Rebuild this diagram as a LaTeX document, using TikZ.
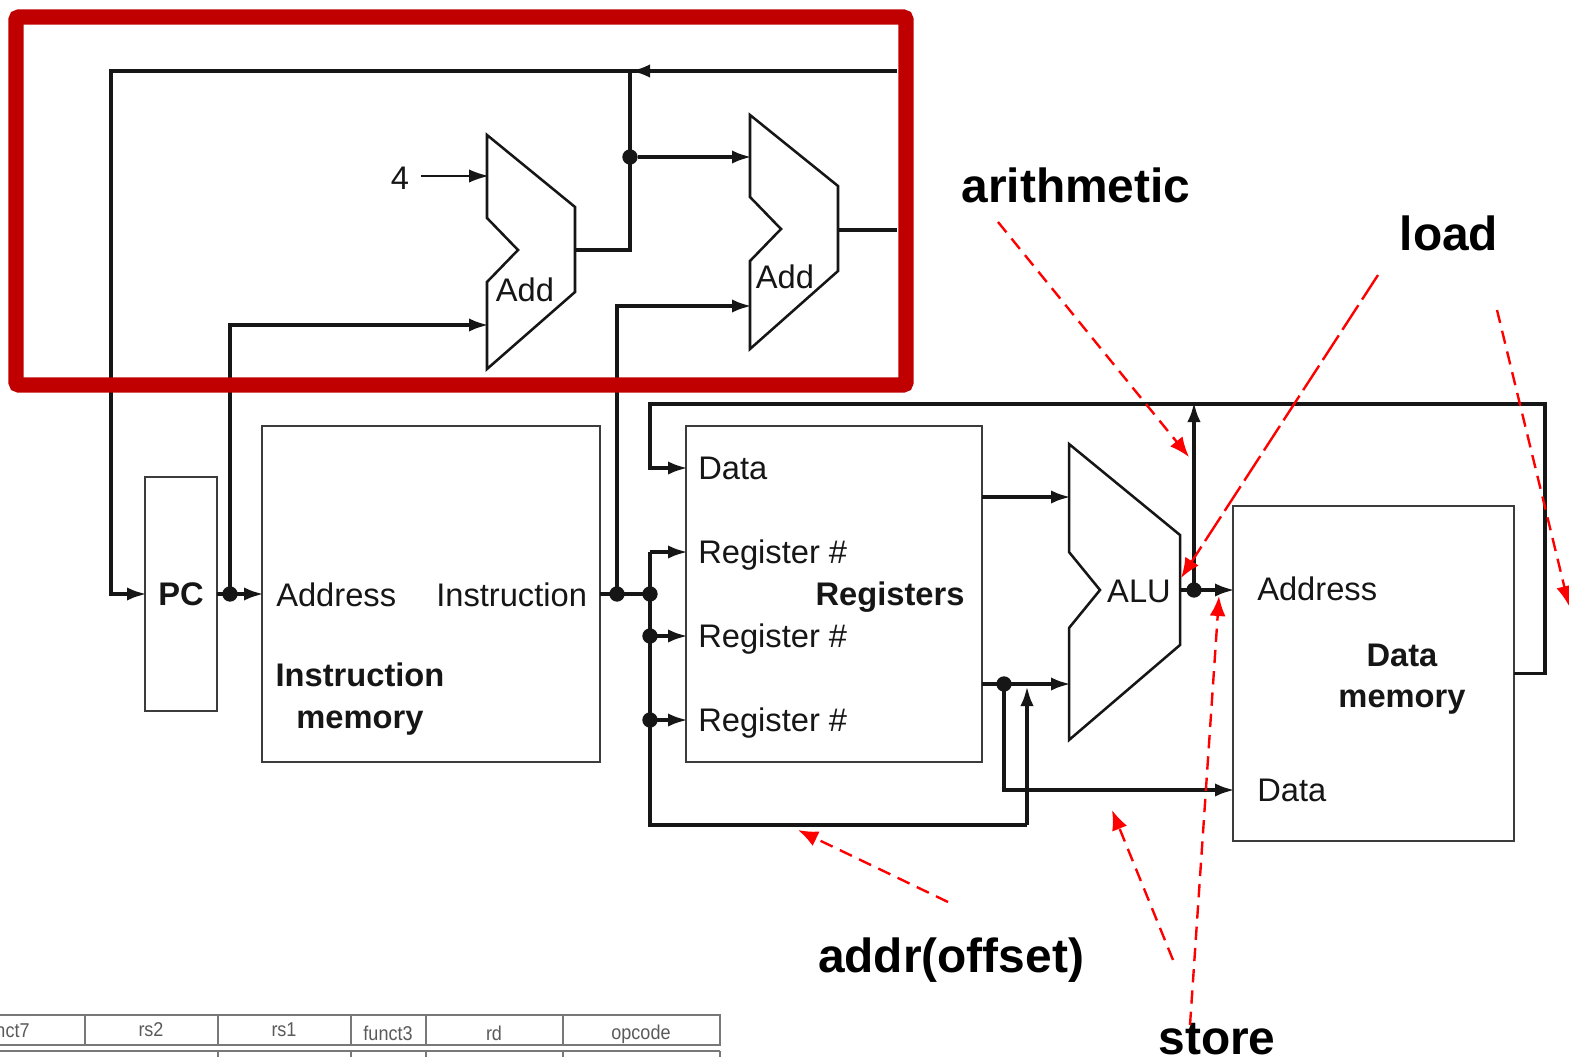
\documentclass[tikz,border=0pt]{standalone}
\usepackage{fontspec}
\setmainfont{Liberation Sans}
\usetikzlibrary{arrows.meta}
\definecolor{frameRed}{RGB}{192,0,0}
\definecolor{ink}{RGB}{22,22,22}
\definecolor{boxInk}{RGB}{60,60,60}
\definecolor{tableInk}{RGB}{120,120,120}
\definecolor{tableText}{RGB}{90,90,90}
\tikzset{
  blockbox/.style={draw=boxInk,line width=2pt,inner sep=0pt,outer sep=0pt},
  unit/.style={draw=ink,line width=1.9pt,line join=miter},
  wire/.style={draw=ink,line width=2.9pt,line join=miter},
  thinwire/.style={draw=ink,line width=1.6pt},
  flow/.style={-{Latex[length=15pt,width=10pt]},shorten >=-1.5pt},
  dot/.style={circle,fill=ink,draw=none,minimum size=11.5pt,inner sep=0pt},
  lbl/.style={font=\fontsize{24.5}{28}\selectfont,text=ink,inner sep=0pt},
  blbl/.style={font=\fontsize{24.5}{31.2}\selectfont\bfseries,text=ink,inner sep=0pt,align=center},
  note/.style={font=\fontsize{35.9}{40}\selectfont\bfseries,text=black,inner sep=0pt},
  callout/.style={draw=red,line width=1.8pt,dash pattern=on 10pt off 6pt,-{Latex[length=15pt,width=12pt]}},
  cell/.style={draw=tableInk,line width=1.2pt},
  celltext/.style={font=\fontsize{15}{18}\selectfont,text=tableText,inner sep=0pt}
}
\begin{document}
\begin{tikzpicture}[x=0.75pt,y=-0.75pt]
\useasboundingbox (0,0) rectangle (1569,1056);
\clip (0,0) rectangle (1569,1056);
\fill[white] (0,0) rectangle (1569,1056);

% blocks
\node[blockbox,minimum width=54pt,minimum height=175.5pt] (pc) at (181,594) {};
\node[blockbox,minimum width=253.5pt,minimum height=252pt] (im) at (431,594) {};
\node[blockbox,minimum width=222pt,minimum height=252pt] (reg) at (834,594) {};
\node[blockbox,minimum width=210.75pt,minimum height=251.25pt] (dm) at (1373.5,673.5) {};

% adders and ALU
\draw[unit] (487,135) -- (575,207) -- (575,292) -- (487,369) -- (487,282) -- (518,250) -- (487,218) -- cycle;
\draw[unit] (750,115) -- (838,186) -- (838,271) -- (750,349) -- (750,261) -- (781,229) -- (750,197) -- cycle;
\draw[unit] (1069,444) -- (1180,535) -- (1180,645) -- (1069,740) -- (1069,628) -- (1100,590) -- (1069,552) -- cycle;

% named junctions
\coordinate (addAin) at (487,325);
\coordinate (addAfour) at (487,176);
\coordinate (addAout) at (575,250);
\coordinate (addBtop) at (750,157);
\coordinate (addBlow) at (750,306);
\coordinate (addBout) at (838,230);
\coordinate (aluA) at (1069,497);
\coordinate (aluB) at (1069,684);
\coordinate (aluOut) at (1180,590);
\coordinate (frameR) at (897,71);
\coordinate (frameS) at (897,230);
\coordinate (pcIn) at (145,594);
\coordinate (regData) at (686,468);
\coordinate (regA) at (686,552);
\coordinate (regB) at (686,636);
\coordinate (regC) at (686,720);
\coordinate (regOutA) at (982,497);
\coordinate (regOutB) at (982,684);
\coordinate (dmAddr) at (1233,590);
\coordinate (dmData) at (1233,790);
\coordinate (fourTail) at (421,176);

\node[dot] (jTop) at (630,157) {};
\node[dot] (jPc) at (230,594) {};
\node[dot] (jI) at (617,594) {};
\node[dot] (jR) at (650,594) {};
\node[dot] (jB) at (650,636) {};
\node[dot] (jC) at (650,720) {};
\node[dot] (jOut) at (1004,684) {};
\node[dot] (jAlu) at (1194,590) {};

% wires
\draw[wire,flow] (frameR) -- (632,71);
\draw[wire,flow] (frameR) -- (111,71) -- (111,594) -- (pcIn);
\draw[wire] (addAout) -- (630,250) -- (630,71);
\draw[wire,flow] (jTop) -- (addBtop);
\draw[thinwire,flow] (fourTail) -- (addAfour);
\draw[wire] (addBout) -- (frameS);
\draw[wire,flow] (pc.east) -- (im.west);
\draw[wire,flow] (jPc.center) -- (230,325) -- (addAin);
\draw[wire] (im.east) -- (jR.center);
\draw[wire,flow] (jI.center) -- (617,306) -- (addBlow);
\draw[wire,flow] (regA -| jR) -- (regA);
\draw[wire] (regA -| jR) -- (650,825) -- (1027,825);
\draw[wire,flow] (1027,825) -- (1027,688);
\draw[wire,flow] (jB.center) -- (regB);
\draw[wire,flow] (jC.center) -- (regC);
\draw[wire,flow] (dm.east) -- (1545,673.5) -- (1545,404) -- (650,404) -- (650,468) -- (regData);
\draw[wire,flow] (regOutA) -- (aluA);
\draw[wire,flow] (regOutB) -- (aluB);
\draw[wire,flow] (jOut.center) -- (1004,790) -- (dmData);
\draw[wire,flow] (aluOut) -- (dmAddr);
\draw[wire,flow] (jAlu.center) -- (1194,404);

% labels
\node[lbl] (four) at (400,178) {4};
\node[lbl] (addAlbl) at (525,290) {Add};
\node[lbl] (addBlbl) at (785,277) {Add};
\node[blbl] (pcLbl) at (181,594) {PC};
\node[lbl,anchor=west] (imA) at (276,595) {Address};
\node[lbl,anchor=west] (imI) at (436,595) {Instruction};
\node[blbl] (imT) at (360,699) {Instruction\\memory};
\node[lbl,anchor=west] (rData) at (698,468) {Data};
\node[lbl,anchor=west] (rA) at (698,555) {Register \#};
\node[lbl,anchor=west] (rB) at (698,639) {Register \#};
\node[lbl,anchor=west] (rC) at (698,723) {Register \#};
\node[blbl] (rT) at (890,597) {Registers};
\node[lbl] (alu) at (1139,591) {ALU};
\node[lbl,anchor=west] (dA) at (1257,589) {Address};
\node[lbl,anchor=west] (dD) at (1257,790) {Data};
\node[blbl] (dT) at (1402,679) {Data\\memory};

% table fragment
\draw[cell] (-5,1015) -- (720,1015) -- (720,1045) -- (-5,1045);
\draw[cell] (-5,1051) -- (720,1051);
\foreach \cx in {85,218,351,426,563,720} \draw[cell] (\cx,1015) -- (\cx,1045);
\foreach \cx in {218,351,426,563,720} \draw[cell] (\cx,1051) -- (\cx,1060);
\node[celltext] (tF7) at (5,1030) {\scalebox{0.9}[1]{funct7}};
\node[celltext] (tR2) at (151,1030) {\scalebox{0.9}[1]{rs2}};
\node[celltext] (tR1) at (284,1030) {\scalebox{0.9}[1]{rs1}};
\node[celltext] (tF3) at (388,1033) {\scalebox{0.9}[1]{funct3}};
\node[celltext] (tRd) at (494,1033) {\scalebox{0.9}[1]{rd}};
\node[celltext] (tOp) at (641,1034) {\scalebox{0.9}[1]{opcode}};

% red frame
\draw[frameRed,line width=11.3pt,rounded corners=2pt] (16,17) rectangle (906,385);

% callouts
\node[note] (nArith) at (1076,185) {arithmetic};
\node[note] (nLoad) at (1449,233) {load};
\node[note] (nAddr) at (951,960) {addr(offset)};
\node[note] (nStore) at (1217,1039) {store};
\coordinate (cArith) at (998,222);
\coordinate (cLoad) at (1378,275);
\coordinate (cLoadB) at (1497,310);
\coordinate (cAddr) at (948,902);
\coordinate (cStoreA) at (1173,960);
\coordinate (cStoreB) at (1190,1025);
\draw[callout] (cArith) -- (1189,457);
\draw[callout,dash pattern=on 22pt off 5pt] (cLoad) -- (1181,578);
\draw[callout] (cLoadB) -- (1569,606);
\draw[callout] (cAddr) -- (798,830);
\draw[callout] (cStoreA) -- (1112,810);
\draw[callout] (cStoreB) -- (1219,596);
\end{tikzpicture}
\end{document}
